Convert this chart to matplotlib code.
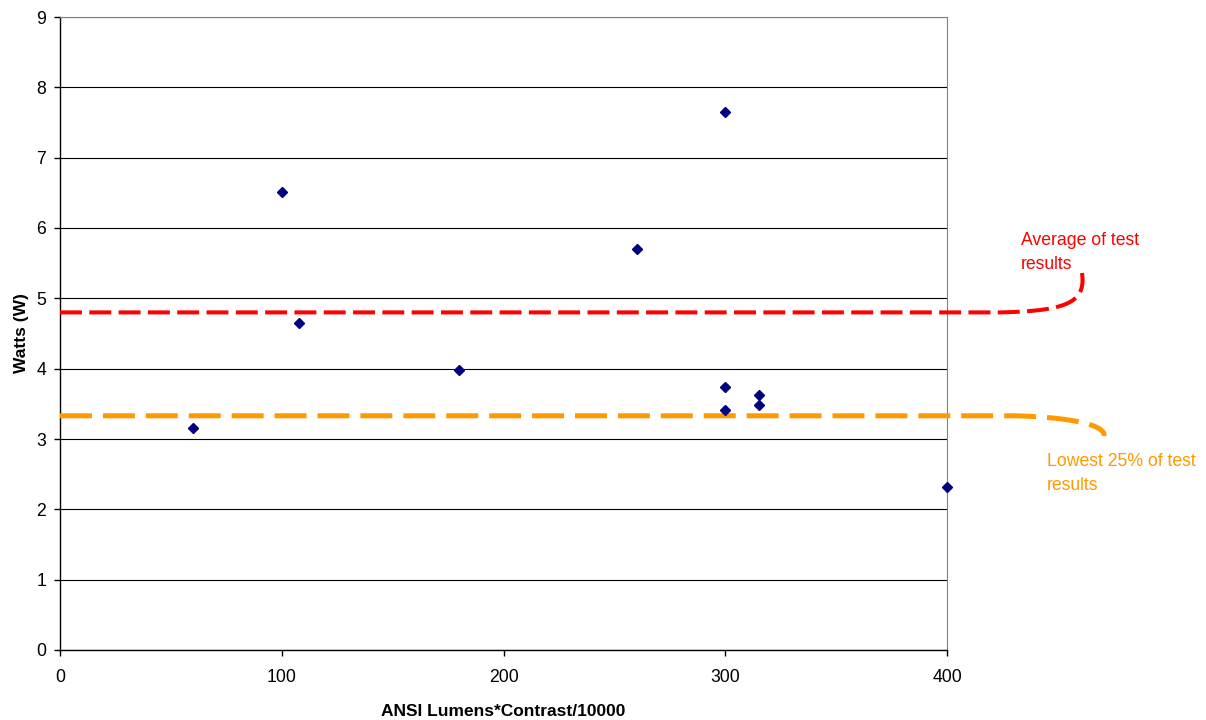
import numpy as np
import matplotlib
matplotlib.use("Agg")
import matplotlib.pyplot as plt

plt.rcParams['font.family'] = ['Liberation Sans', 'DejaVu Sans']
plt.rcParams['lines.scale_dashes'] = False

# data
lumens_contrast = [60, 100, 108, 180, 260, 300, 300, 300, 315, 315, 400]
watts = [3.16, 6.51, 4.65, 3.98, 5.70, 7.65, 3.74, 3.41, 3.62, 3.48, 2.32]

average_watts = 4.80
lowest_25_watts = 3.33

x_ticks = [0, 100, 200, 300, 400]
y_ticks = list(range(0, 10))

fig = plt.figure(figsize=(12.06, 7.2), dpi=100)
ax = fig.add_axes([60 / 1206, 70 / 720, 887 / 1206, 633 / 720])

ax.set_xlim(0, 400)
ax.set_ylim(0, 9)
ax.set_xticks(x_ticks)
ax.set_yticks(y_ticks)
ax.yaxis.grid(True, color='black', linewidth=0.8)
ax.set_axisbelow(True)

for s in ['top', 'right']:
    ax.spines[s].set_color('#808080')
for s in ['left', 'bottom']:
    ax.spines[s].set_color('black')
    ax.spines[s].set_linewidth(1.0)
ax.tick_params(axis='both', direction='out', length=4, width=1, labelsize=12.7, colors='black')
ax.tick_params(axis='y', pad=6)
ax.tick_params(axis='x', pad=10)


def px_to_data(px, py):
    # helper to turn pixel positions of the callout curves into data units
    return (px - 60) / 887 * 400, (650 - py) / 633 * 9


def callout(level, start_px, c1, c2, end_px):
    t = np.linspace(0, 1, 60)
    p0 = np.array(px_to_data(*start_px))
    p0[1] = level
    p1 = np.array(px_to_data(*c1))
    p2 = np.array(px_to_data(*c2))
    p3 = np.array(px_to_data(*end_px))
    bez = ((1 - t) ** 3)[:, None] * p0 + (3 * (1 - t) ** 2 * t)[:, None] * p1 \
        + (3 * (1 - t) * t ** 2)[:, None] * p2 + (t ** 3)[:, None] * p3
    xs = np.concatenate([[0], bez[:, 0]])
    ys = np.concatenate([[level], bez[:, 1]])
    return xs, ys


xs, ys = callout(average_watts, (1000, 312), (1068, 311), (1086, 302), (1082, 273))
red, = ax.plot(xs, ys, color='#FF0000', linewidth=2.9, clip_on=False, zorder=3,
               solid_capstyle='butt', dash_capstyle='butt')
red.set_dashes((15.8, 5.3))

xs, ys = callout(lowest_25_watts, (1015, 415), (1065, 417), (1106, 424), (1104, 436))
orange, = ax.plot(xs, ys, color='#FF9900', linewidth=3.6, clip_on=False, zorder=3,
                  dash_capstyle='butt')
orange.set_dashes((23, 7.9))

ax.plot(lumens_contrast, watts, linestyle='none', marker='D', markersize=5.3,
        color='#000080', zorder=4, clip_on=False)

ax.set_ylabel('Watts (W)', fontsize=12.5, fontweight='bold', labelpad=5)
ax.set_xlabel('ANSI Lumens*Contrast/10000', fontsize=12.5, fontweight='bold', labelpad=13)

fig.text(1021 / 1206, 1 - 232 / 720, 'Average of test\nresults', color='#FF0000',
         fontsize=12.7, ha='left', va='top', linespacing=1.55)
fig.text(1047 / 1206, 1 - 453 / 720, 'Lowest 25% of test\nresults', color='#FF9900',
         fontsize=12.7, ha='left', va='top', linespacing=1.55)

fig.savefig('out.png', dpi=100)
